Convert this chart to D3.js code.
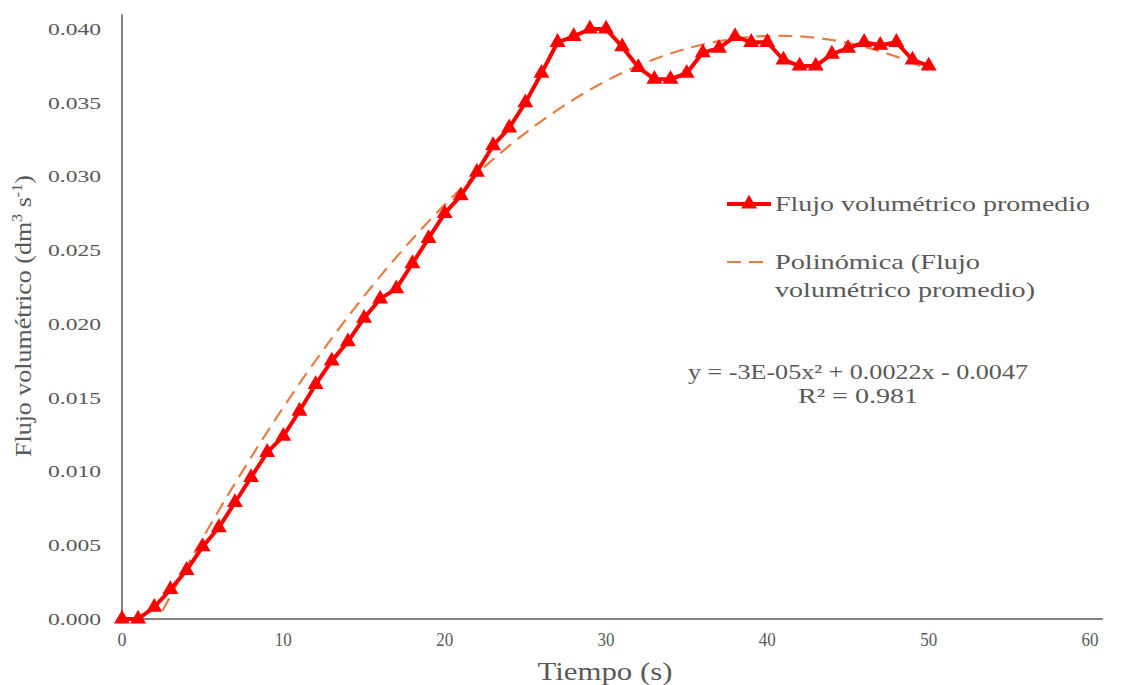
<!DOCTYPE html>
<html><head><meta charset="utf-8">
<script src="https://cdn.jsdelivr.net/npm/d3@7"></script>
<style>body{margin:0;background:#fff}svg{display:block}</style>
</head><body><svg id="c" width="1127" height="685"></svg>
<script>
const tiempo = d3.range(0, 51);
const flujo = [0.0000,0.0000,0.0008,0.0020,0.0033,0.0049,0.0062,0.0079,0.0096,0.0113,
0.0124,0.0141,0.0159,0.0175,0.0188,0.0204,0.0217,0.0224,0.0241,0.0258,
0.0275,0.0287,0.0303,0.0321,0.0333,0.0350,0.0370,0.0391,0.0395,0.0400,
0.0400,0.0388,0.0374,0.0366,0.0366,0.0370,0.0384,0.0387,0.0395,0.0391,
0.0391,0.0379,0.0375,0.0375,0.0383,0.0387,0.0391,0.0389,0.0391,0.0379,0.0375];
const yTicks = [0,0.005,0.010,0.015,0.020,0.025,0.030,0.035,0.040];
const xTicks = [0,10,20,30,40,50,60];
const seriesName = "Flujo volumétrico promedio";
const trendName = ["Polinómica (Flujo", "volumétrico promedio)"];
const eqText = ["y = -3E-05x² + 0.0022x - 0.0047", "R² = 0.981"];

const FONT = "'Liberation Serif', 'DejaVu Serif', 'Noto Serif', 'Times New Roman', Times, serif";

function quadFit(xs, ys){
  let S=[0,0,0,0,0], T=[0,0,0];
  xs.forEach((x,i)=>{for(let k=0;k<5;k++)S[k]+=Math.pow(x,k);for(let k=0;k<3;k++)T[k]+=ys[i]*Math.pow(x,k);});
  const A=[[S[0],S[1],S[2],T[0]],[S[1],S[2],S[3],T[1]],[S[2],S[3],S[4],T[2]]];
  for(let i=0;i<3;i++){for(let j=i+1;j<3;j++){const f=A[j][i]/A[i][i];for(let k=i;k<4;k++)A[j][k]-=f*A[i][k];}}
  const c=[0,0,0];
  for(let i=2;i>=0;i--){let s=A[i][3];for(let k=i+1;k<3;k++)s-=A[i][k]*c[k];c[i]=s/A[i][i];}
  return c;
}
const coef = quadFit(tiempo, flujo);

const svg = d3.select("#c");
const x = d3.scaleLinear().domain([0,60]).range([122,1090]);
const y = d3.scaleLinear().domain([0,0.040]).range([619,29]);

const axCol = "#595959";
const txt = sel => sel.attr("font-family",FONT).attr("fill",axCol);

svg.append("line").attr("x1",x(0)).attr("x2",x(60.8)).attr("y1",y(0)).attr("y2",y(0)).attr("stroke",axCol).attr("stroke-width",1.5);
svg.append("line").attr("x1",x(0)).attr("x2",x(0)).attr("y1",y(0)).attr("y2",y(0.041)).attr("stroke",axCol).attr("stroke-width",1.5);

svg.selectAll(".yt").data(yTicks).join("text").attr("class","yt").call(txt)
  .attr("x",101).attr("y",d=>y(d)).attr("dy","0.35em").attr("text-anchor","end")
  .attr("font-size",17).attr("textLength",53).attr("lengthAdjust","spacingAndGlyphs").text(d=>d3.format(".3f")(d));
svg.selectAll(".xt").data(xTicks).join("text").attr("class","xt").call(txt)
  .attr("x",d=>x(d)).attr("y",646).attr("text-anchor","middle")
  .attr("font-size",18).attr("textLength",d=>d===0?9:17).attr("lengthAdjust","spacingAndGlyphs").text(d=>d);

svg.append("text").call(txt).attr("x",605).attr("y",680).attr("text-anchor","middle").attr("font-size",26)
  .attr("textLength",135).attr("lengthAdjust","spacingAndGlyphs").text("Tiempo (s)");
const yl = svg.append("text").call(txt).attr("transform","translate(31,316) rotate(-90)").attr("text-anchor","middle").attr("font-size",24)
  .attr("textLength",282).attr("lengthAdjust","spacingAndGlyphs");
yl.append("tspan").text("Flujo volumétrico (dm");
yl.append("tspan").attr("dy",-9).attr("font-size",15).text("3");
yl.append("tspan").attr("dy",9).text(" s");
yl.append("tspan").attr("dy",-9).attr("font-size",15).text("-1");
yl.append("tspan").attr("dy",9).text(")");

svg.append("clipPath").attr("id","pc").append("rect").attr("x",x(0)).attr("y",0).attr("width",x(60)-x(0)).attr("height",y(0));
const tpts = d3.range(0,50.01,0.25).map(t=>[t,coef[0]+coef[1]*t+coef[2]*t*t]);
svg.append("path").datum(tpts).attr("clip-path","url(#pc)")
  .attr("d",d3.line().x(d=>x(d[0])).y(d=>y(d[1])))
  .attr("fill","none").attr("stroke","#E37F45").attr("stroke-width",2.2).attr("stroke-dasharray","14,8");

const data = tiempo.map((t,i)=>[t,flujo[i]]);
svg.append("path").datum(data).attr("d",d3.line().x(d=>x(d[0])).y(d=>y(d[1])))
  .attr("fill","none").attr("stroke","#FF0000").attr("stroke-width",4).attr("stroke-linejoin","round");
const tri = d3.symbol().type(d3.symbolTriangle).size(110);
svg.selectAll(".m").data(data).join("path").attr("class","m")
  .attr("transform",d=>`translate(${x(d[0])},${y(d[1])})`).attr("d",tri).attr("fill","#FF0000");

svg.append("line").attr("x1",727).attr("x2",771).attr("y1",204).attr("y2",204).attr("stroke","#FF0000").attr("stroke-width",4);
svg.append("path").attr("transform","translate(749,204)").attr("d",tri).attr("fill","#FF0000");
svg.append("text").call(txt).attr("x",775).attr("y",204).attr("dy","0.35em").attr("font-size",21)
  .attr("textLength",315).attr("lengthAdjust","spacingAndGlyphs").text(seriesName);
svg.append("line").attr("x1",727).attr("x2",771).attr("y1",262).attr("y2",262).attr("stroke","#E37F45").attr("stroke-width",2.2).attr("stroke-dasharray","14,8");
svg.selectAll(".tn").data(trendName).join("text").attr("class","tn").call(txt).attr("x",775).attr("y",(d,i)=>262+i*28).attr("dy","0.35em").attr("font-size",21)
  .attr("textLength",(d,i)=>i===0?205:260).attr("lengthAdjust","spacingAndGlyphs").text(d=>d);
svg.selectAll(".eq").data(eqText).join("text").attr("class","eq").call(txt).attr("x",858).attr("y",(d,i)=>372+i*24).attr("dy","0.35em").attr("text-anchor","middle").attr("font-size",21)
  .attr("textLength",(d,i)=>i===0?340:120).attr("lengthAdjust","spacingAndGlyphs").text(d=>d);
</script></body></html>
